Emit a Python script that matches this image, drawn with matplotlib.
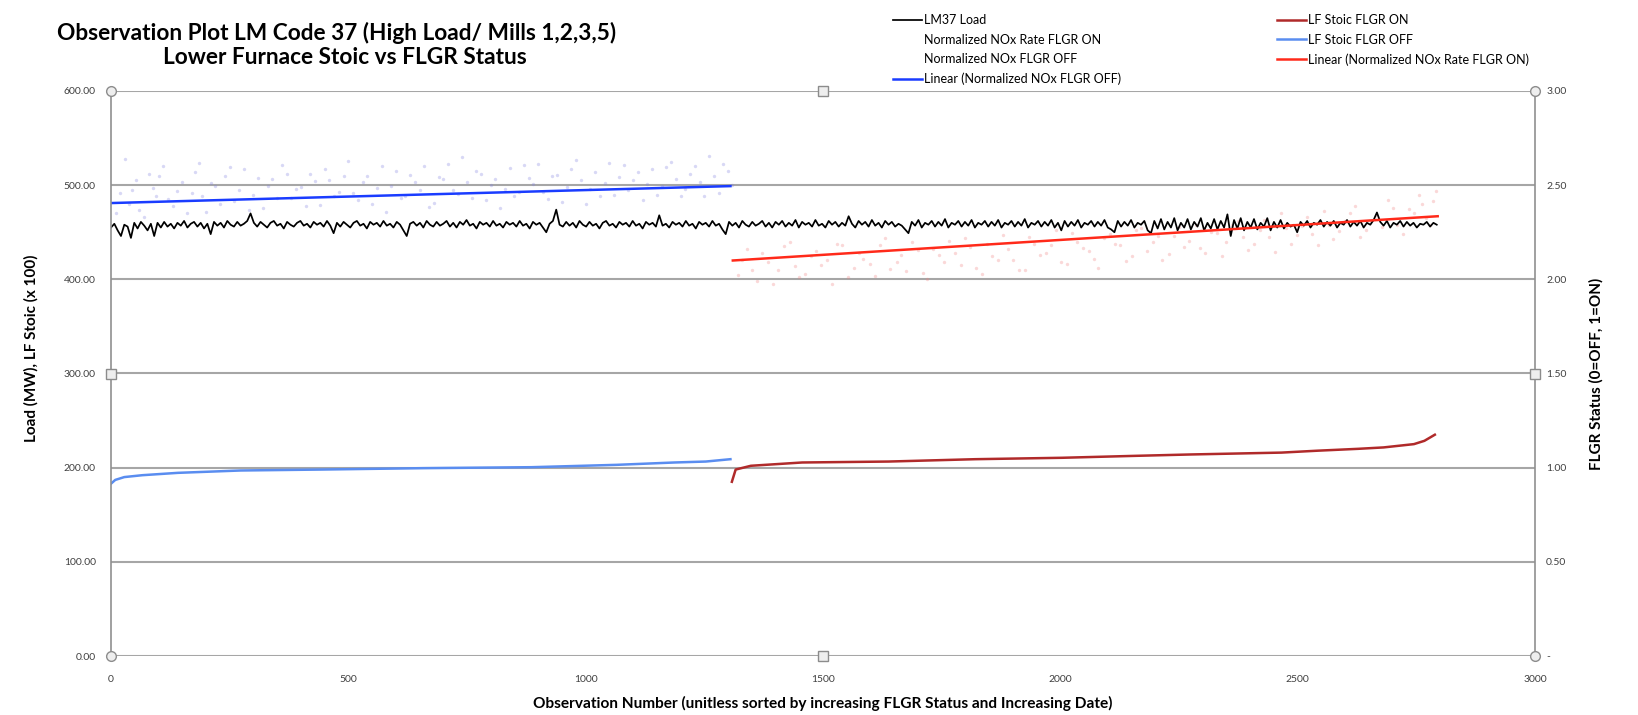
import matplotlib.pyplot as plt
import numpy as np
from matplotlib.lines import Line2D
from matplotlib.ticker import FuncFormatter, MultipleLocator

plt.rcParams['font.family'] = ['Lato', 'DejaVu Sans']

# LM37 load, one reading every 7 observations
load_obs = np.arange(0, 2800, 7)
load_mw = [
    455, 459, 452, 446, 458, 456, 444, 460, 454, 461, 457, 452, 459, 446, 460, 455, 461, 456, 459, 454,
    460, 457, 462, 455, 459, 461, 456, 460, 454, 459, 448, 461, 457, 460, 455, 462, 458, 456, 461, 457,
    459, 462, 470, 460, 456, 461, 458, 455, 460, 462, 457, 459, 454, 461, 458, 456, 460, 462, 457, 459,
    455, 461, 458, 460, 456, 462, 457, 449, 460, 456, 461, 458, 455, 460, 462, 457, 459, 454, 461, 458,
    460, 456, 462, 457, 459, 455, 461, 458, 452, 446, 459, 461, 457, 460, 455, 462, 458, 456, 461, 457,
    459, 462, 456, 460, 455, 461, 458, 463, 457, 459, 454, 461, 458, 460, 456, 462, 457, 459, 455, 461,
    458, 460, 456, 462, 457, 459, 454, 461, 458, 460, 455, 450, 459, 462, 474, 458, 456, 461, 457, 460,
    455, 462, 458, 456, 461, 457, 459, 454, 460, 462, 457, 459, 455, 461, 458, 460, 456, 462, 457, 459,
    454, 461, 458, 460, 456, 468, 457, 459, 455, 461, 458, 460, 456, 462, 457, 459, 454, 461, 458, 460,
    456, 462, 457, 459, 453, 448, 461, 457, 460, 455, 462, 458, 456, 461, 457, 459, 462, 456, 460, 455,
    461, 458, 462, 456, 460, 457, 463, 455, 461, 458, 460, 456, 463, 457, 459, 455, 462, 458, 461, 456,
    460, 457, 467, 459, 455, 462, 458, 461, 456, 463, 457, 460, 455, 462, 458, 461, 456, 459, 457, 453,
    449, 461, 457, 463, 455, 460, 458, 462, 456, 461, 457, 464, 455, 460, 458, 462, 456, 461, 457, 463,
    455, 460, 458, 462, 456, 461, 457, 463, 455, 460, 458, 462, 456, 461, 457, 464, 455, 460, 458, 462,
    456, 461, 457, 463, 455, 460, 452, 462, 456, 461, 457, 463, 455, 460, 458, 462, 456, 461, 457, 463,
    455, 453, 450, 462, 456, 461, 457, 463, 455, 460, 458, 462, 452, 449, 462, 454, 464, 453, 461, 455,
    465, 452, 460, 455, 464, 453, 461, 456, 465, 452, 460, 454, 464, 453, 462, 455, 469, 446, 463, 454,
    465, 452, 461, 455, 464, 453, 460, 456, 465, 452, 461, 455, 463, 454, 460, 456, 458, 450, 461, 457,
    462, 455, 460, 458, 463, 456, 461, 457, 462, 455, 460, 458, 463, 456, 461, 457, 462, 455, 460, 458,
    463, 471, 461, 457, 462, 455, 460, 458, 462, 456, 461, 457, 460, 455, 459, 458, 461, 456, 460, 458,
]

# Normalized NOx, FLGR OFF (faint blue cloud)
nox_off_obs = [10, 30, 45, 60, 80, 95, 110, 130, 150, 170, 185, 200, 220, 240, 260, 280, 300, 320,
               340, 360, 380, 400, 420, 440, 460, 480, 500, 520, 540, 560, 580, 600, 620, 640, 660,
               680, 700, 720, 740, 760, 780, 800, 820, 840, 860, 880, 900, 920, 940, 960, 980, 1000,
               1020, 1040, 1060, 1080, 1100, 1120, 1140, 1160, 1180, 1200, 1220, 1240, 1260, 1280, 1300,
               20, 38, 52, 70, 88, 102, 120, 140, 160, 178, 192, 210, 230, 250, 270, 290, 310, 330,
               350, 370, 390, 410, 430, 450, 470, 490, 510, 530, 550, 570, 590, 610, 630, 650, 670,
               690, 710, 730, 750, 770, 790, 810, 830, 850, 870, 890, 910, 930, 950, 970, 990, 1010,
               1030, 1050, 1070, 1090, 1110, 1130, 1150, 1170, 1190, 1210, 1230, 1250, 1270, 1290, 1308]
nox_off = [470, 528, 495, 474, 512, 488, 520, 478, 503, 492, 524, 471, 499, 510, 483, 517, 490, 476,
           507, 521, 486, 498, 512, 479, 505, 493, 526, 484, 510, 497, 472, 515, 489, 503, 520,
           481, 507, 495, 530, 486, 512, 500, 476, 518, 493, 508, 523, 485, 511, 498, 527, 480,
           514, 502, 490, 521, 506, 484, 517, 499, 525, 488, 512, 503, 531, 492, 515,
           492, 480, 505, 466, 497, 510, 485, 494, 470, 514, 489, 502, 480, 519, 495, 474, 508, 499,
           486, 512, 496, 478, 504, 517, 488, 510, 492, 503, 480, 520, 499, 486, 511, 495, 477,
           509, 522, 491, 503, 515, 484, 507, 496, 488, 521, 501, 493, 510, 482, 517, 505, 496,
           488, 524, 509, 495, 514, 501, 490, 519, 507, 496, 520, 489, 510, 523, 500]

# Normalized NOx rate, FLGR ON (faint red cloud)
nox_on_obs = [1320, 1340, 1360, 1385, 1405, 1430, 1450, 1475, 1495, 1520, 1540, 1565, 1585, 1610,
              1630, 1655, 1675, 1700, 1720, 1745, 1765, 1790, 1810, 1835, 1855, 1880, 1900, 1925,
              1945, 1970, 1990, 2015, 2035, 2060, 2080, 2105, 2125, 2150, 2170, 2195, 2215, 2240,
              2260, 2285, 2305, 2330, 2350, 2375, 2395, 2420, 2440, 2465, 2485, 2510, 2530, 2555,
              2575, 2600, 2620, 2645, 2665, 2690, 2710, 2735, 2755, 2770, 2785,
              1330, 1350, 1372, 1395, 1418, 1440, 1462, 1485, 1508, 1530, 1552, 1575, 1598, 1620,
              1642, 1665, 1688, 1710, 1732, 1755, 1778, 1800, 1822, 1845, 1868, 1890, 1912, 1935,
              1958, 1980, 2002, 2025, 2048, 2070, 2092, 2115, 2138, 2160, 2182, 2205, 2228, 2250,
              2272, 2295, 2318, 2340, 2362, 2385, 2408, 2430, 2452, 2475, 2498, 2520, 2542, 2565,
              2588, 2610, 2632, 2655, 2678, 2700, 2722, 2745, 2762, 2778, 2792]
nox_on = [405, 432, 398, 418, 410, 440, 402, 425, 415, 395, 436, 412, 422, 404,
          444, 418, 409, 431, 400, 426, 441, 415, 434, 406, 425, 447, 420, 410,
          438, 428, 452, 416, 440, 430, 412, 448, 436, 425, 455, 440, 420, 446,
          434, 458, 428, 449, 440, 462, 431, 452, 445, 470, 438, 457, 448, 473,
          443, 462, 478, 452, 468, 484, 458, 475, 490, 465, 483,
          420, 410, 428, 395, 435, 414, 406, 430, 420, 438, 403, 428, 416, 436,
          411, 426, 440, 407, 432, 418, 428, 444, 412, 437, 421, 432, 410, 445,
          426, 436, 418, 449, 433, 422, 444, 438, 419, 452, 430, 446, 427, 456,
          441, 433, 450, 425, 458, 445, 437, 463, 429, 455, 447, 466, 436, 458,
          451, 470, 445, 462, 456, 476, 448, 470, 480, 458, 494]

# LF stoic (x 100), sorted
stoic_off_obs = [0, 9, 28, 66, 141, 273, 443, 660, 886, 1065, 1187, 1253, 1305]
stoic_off = [183, 187, 190, 192, 194.5, 197, 198, 199.5, 200.5, 203, 205.5, 206.5, 209]
stoic_on_obs = [1308, 1316, 1348, 1456, 1638, 1821, 2004, 2154, 2273, 2466, 2541, 2627, 2681, 2745, 2767, 2789]
stoic_on = [185, 198, 202, 205.5, 206.5, 209, 210.5, 212.5, 214, 216, 218, 220, 221.5, 225, 228.5, 235]

# linear trend lines (end points)
trend_off_obs = [0, 1305]
trend_off = [481, 499]
trend_on_obs = [1310, 2795]
trend_on = [420, 467]

fig = plt.figure(figsize=(16.38, 7.15), dpi=100)
fig.patch.set_facecolor('white')
ax = fig.add_axes([111 / 1638, 1 - 656 / 715, 1424 / 1638, 565 / 715])

grid_c = '#a6a6a6'
ax.set_xlim(0, 3000)
ax.set_ylim(0, 600)
ax.yaxis.set_major_locator(MultipleLocator(100))
ax.xaxis.set_major_locator(MultipleLocator(500))
ax.yaxis.set_major_formatter(FuncFormatter(lambda v, p: '%.2f' % v))
ax.grid(axis='y', color=grid_c, linewidth=1.5)
ax.set_axisbelow(True)
for s in ['top', 'bottom']:
    ax.spines[s].set_visible(False)
for s in ['left', 'right']:
    ax.spines[s].set_color('#909090')
    ax.spines[s].set_linewidth(1.2)
ax.tick_params(axis='both', length=0, labelsize=7.5, labelcolor='#404040')
ax.tick_params(axis='y', pad=11)
ax.tick_params(axis='x', pad=14)

sc_on = ax.scatter(nox_on_obs, nox_on, s=6, color='#f08080', alpha=0.3, linewidths=0)
sc_off = ax.scatter(nox_off_obs, nox_off, s=6, color='#8080e0', alpha=0.3, linewidths=0)
l_load, = ax.plot(load_obs, load_mw, color='black', linewidth=1.25)
l_son, = ax.plot(stoic_on_obs, stoic_on, color='#b02a2a', linewidth=1.8)
l_soff, = ax.plot(stoic_off_obs, stoic_off, color='#5a8df0', linewidth=1.8)
l_toff, = ax.plot(trend_off_obs, trend_off, color='#1a3cff', linewidth=1.8)
l_ton, = ax.plot(trend_on_obs, trend_on, color='#ff2a1a', linewidth=1.8)

ax2 = ax.twinx()
ax2.set_ylim(0, 3)
ax2.yaxis.set_major_locator(MultipleLocator(0.5))
ax2.yaxis.set_major_formatter(FuncFormatter(lambda v, p: '-' if v == 0 else '%.2f' % v))
ax2.tick_params(axis='y', length=0, labelsize=7.5, labelcolor='#404040', pad=8)
for s in ax2.spines.values():
    s.set_visible(False)

# selection handles on the plot area
for hx, hy, m in [(0, 0, 'o'), (0, 1, 'o'), (1, 0, 'o'), (1, 1, 'o'),
                  (0.5, 0, 's'), (0.5, 1, 's'), (0, 0.5, 's'), (1, 0.5, 's')]:
    ax.plot(hx, hy, marker=m, markersize=7, markerfacecolor='#eeeeee', markeredgecolor='#8c8c8c',
            markeredgewidth=1, transform=ax.transAxes, clip_on=False, zorder=10)

ax.set_ylabel('Load (MW), LF Stoic (x 100)', fontsize=11, fontweight='bold')
ax.yaxis.set_label_coords(-(111 - 39) / 1424, 0.544)
ax2.set_ylabel('FLGR Status (0=OFF, 1=ON)', fontsize=11, fontweight='bold')
ax2.yaxis.set_label_coords(1 + (1589 - 1535) / 1424, 0.5)
ax.set_xlabel('Observation Number (unitless sorted by increasing FLGR Status and Increasing Date)',
              fontsize=11.1, fontweight='bold')
ax.xaxis.set_label_coords(0.5, -(696 - 656) / 565)

fig.text(337 / 1638, 1 - 33 / 715, 'Observation Plot LM Code 37 (High Load/ Mills 1,2,3,5)',
         fontsize=16.3, fontweight='bold', ha='center', va='center')
fig.text(345 / 1638, 1 - 58 / 715, 'Lower Furnace Stoic vs FLGR Status',
         fontsize=16.3, fontweight='bold', ha='center', va='center')

blank = Line2D([], [], linestyle='none')
leg_kw = dict(frameon=False, fontsize=9, handlelength=2.35, handletextpad=0.1,
              labelspacing=0.6, borderpad=0, borderaxespad=0, loc='upper left')
fig.legend([l_load, blank, blank, l_toff],
           ['LM37 Load', 'Normalized NOx Rate FLGR ON', 'Normalized NOx FLGR OFF',
            'Linear (Normalized NOx FLGR OFF)'],
           bbox_to_anchor=(893 / 1638, 1 - 14 / 715), **leg_kw)
fig.legend([l_son, l_soff, l_ton],
           ['LF Stoic FLGR ON', 'LF Stoic FLGR OFF', 'Linear (Normalized NOx Rate FLGR ON)'],
           bbox_to_anchor=(1277 / 1638, 1 - 14 / 715), **leg_kw)

fig.savefig('out.png', dpi=100)
